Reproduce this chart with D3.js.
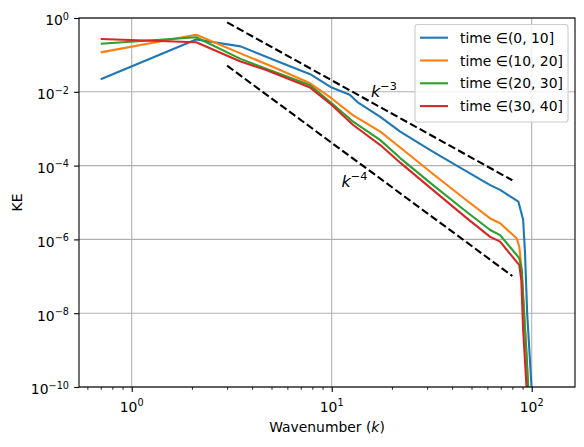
<!DOCTYPE html>
<html>
<head>
<meta charset="utf-8">
<script src="https://cdn.jsdelivr.net/npm/d3@7"></script>
<style>
body { margin: 0; background: #fff; }
text { font-family: "DejaVu Sans", sans-serif; fill: #000; }
</style>
</head>
<body>
<div id="chart"></div>
<script>
// spectra: [wavenumber k, KE]
var ke_0_10 = [[0.7, 2.2e-2], [2.1, 2.6e-1], [3.5, 1.7e-1], [5.5, 6.3e-2], [7.8, 3.0e-2], [10, 1.3e-2],
    [12.3, 8.3e-3], [13.5, 5.2e-3], [17.5, 2.1e-3], [22, 8.3e-4], [32, 2.4e-4], [47, 7.1e-5], [62, 2.95e-5],
    [69.5, 2.2e-5], [85.8, 1.05e-5], [90.6, 3.4e-6], [92.6, 4.2e-7], [94.9, 1.0e-8], [100, 8.3e-11], [102, 1e-11]];
var ke_10_20 = [[0.7, 1.17e-1], [2.1, 3.5e-1], [3.5, 1.1e-1], [5.0, 4.9e-2], [7.8, 1.7e-2], [10, 6.6e-3],
    [12.8, 2.3e-3], [17.5, 8.3e-4], [22, 3.1e-4], [32, 6.0e-5], [47, 1.17e-5], [62, 3.7e-6], [69.5, 2.75e-6],
    [84.1, 1.07e-6], [86.7, 6.3e-7], [89.1, 1.5e-7], [92.6, 3.5e-9], [96.3, 8.3e-11], [98, 1e-11]];
var ke_20_30 = [[0.7, 2.0e-1], [2.1, 3.0e-1], [3.5, 7.8e-2], [5.0, 3.7e-2], [7.8, 1.5e-2], [10, 4.9e-3],
    [12.8, 1.55e-3], [17.5, 4.9e-4], [22, 1.6e-4], [32, 3.0e-5], [47, 5.7e-6], [62, 1.8e-6], [69.5, 1.3e-6],
    [86.7, 3.1e-7], [89.1, 1.5e-7], [90.6, 2.8e-8], [94.4, 6.6e-10], [96, 9e-11], [97.5, 1e-11]];
var ke_30_40 = [[0.7, 2.7e-1], [2.1, 2.2e-1], [3.5, 6.6e-2], [4.7, 3.9e-2], [7.8, 1.3e-2], [10, 4.4e-3],
    [12.8, 1.26e-3], [17.5, 3.6e-4], [22, 1.2e-4], [32, 2.2e-5], [47, 3.9e-6], [62, 1.17e-6], [69.5, 8.7e-7],
    [86.7, 2.0e-7], [88.7, 7.9e-8], [90.6, 3.5e-9], [94.4, 8.3e-11], [96, 1e-11]];

var seriesNames = ["(0, 10]", "(10, 20]", "(20, 30]", "(30, 40]"];
var seriesColors = ["#1f77b4", "#ff7f0e", "#2ca02c", "#d62728"];
var allSeries = [ke_0_10, ke_10_20, ke_20_30, ke_30_40];

// reference slopes (end points)
var refK3 = [[3, 0.76], [80, 4.0e-5]];
var refK4 = [[3, 5.1e-2], [80, 1.02e-7]];

var xMajor = [1, 10, 100];
var xMinor = [0.6, 0.7, 0.8, 0.9, 2, 3, 4, 5, 6, 7, 8, 9, 20, 30, 40, 50, 60, 70, 80, 90];
var yMajor = [1, 1e-2, 1e-4, 1e-6, 1e-8, 1e-10];

var w = 584, h = 447;
var axLeft = 79, axRight = 575, axTop = 18, axBottom = 387;

var svg = d3.select("#chart").append("svg")
    .attr("width", w)
    .attr("height", h);

svg.append("rect").attr("width", w).attr("height", h).attr("fill", "#fff");

var x = d3.scaleLog().domain([0.545, 164.6]).range([axLeft, axRight]);
var y = d3.scaleLog().domain([1e-10, 1]).range([axBottom, axTop]);

svg.append("clipPath").attr("id", "clip")
    .append("rect")
    .attr("x", axLeft).attr("y", axTop)
    .attr("width", axRight - axLeft).attr("height", axBottom - axTop);

// grid
var grid = svg.append("g").attr("stroke", "#b0b0b0").attr("stroke-width", 1.1);
grid.selectAll(".gx").data(xMajor).enter().append("line")
    .attr("x1", function (d) { return x(d); }).attr("x2", function (d) { return x(d); })
    .attr("y1", axTop).attr("y2", axBottom);
grid.selectAll(".gy").data(yMajor).enter().append("line")
    .attr("y1", function (d) { return y(d); }).attr("y2", function (d) { return y(d); })
    .attr("x1", axLeft).attr("x2", axRight);

var line = d3.line()
    .x(function (d) { return x(d[0]); })
    .y(function (d) { return y(d[1]); });

var plot = svg.append("g").attr("clip-path", "url(#clip)");

allSeries.forEach(function (s, i) {
    plot.append("path")
        .attr("d", line(s))
        .attr("fill", "none")
        .attr("stroke", seriesColors[i])
        .attr("stroke-width", 2.1)
        .attr("stroke-linejoin", "round")
        .attr("stroke-linecap", "butt");
});

[refK3, refK4].forEach(function (r) {
    plot.append("path")
        .attr("d", line(r))
        .attr("fill", "none")
        .attr("stroke", "#000")
        .attr("stroke-width", 2.1)
        .attr("stroke-dasharray", "7.7,3.3");
});

// slope labels
function slopeLabel(px, py, exp) {
    var t = svg.append("text").attr("x", px).attr("y", py).attr("font-size", 16);
    t.append("tspan").attr("font-style", "italic").text("k");
    t.append("tspan").attr("font-size", 11.2).attr("dy", -7).text("\u2212" + exp);
}
slopeLabel(371, 97, 3);
slopeLabel(341.5, 186.7, 4);

// spines
svg.append("rect")
    .attr("x", axLeft).attr("y", axTop)
    .attr("width", axRight - axLeft).attr("height", axBottom - axTop)
    .attr("fill", "none").attr("stroke", "#000").attr("stroke-width", 1.1);

// ticks
var xAxis = d3.axisBottom(x).tickValues(xMajor).tickSize(4.9).tickFormat("");
var xAxisMinor = d3.axisBottom(x).tickValues(xMinor).tickSize(2.8).tickFormat("");
var yAxis = d3.axisLeft(y).tickValues(yMajor).tickSize(4.9).tickFormat("");

var gx = svg.append("g").attr("transform", "translate(0," + axBottom + ")").call(xAxis);
var gxm = svg.append("g").attr("transform", "translate(0," + axBottom + ")").call(xAxisMinor);
var gy = svg.append("g").attr("transform", "translate(" + axLeft + ",0)").call(yAxis);
[gx, gxm, gy].forEach(function (g) {
    g.select(".domain").remove();
    g.selectAll("line").attr("stroke", "#000");
});
gx.selectAll("line").attr("stroke-width", 1.1);
gy.selectAll("line").attr("stroke-width", 1.1);
gxm.selectAll("line").attr("stroke-width", 0.85);

function powText(t, v) {
    var e = Math.round(Math.log10(v));
    t.append("tspan").text("10");
    t.append("tspan").attr("font-size", 9.7).attr("dy", -5.5).text(e < 0 ? "\u2212" + (-e) : e);
}

xMajor.forEach(function (v) {
    var t = svg.append("text").attr("x", x(v)).attr("y", 411.5)
        .attr("font-size", 13.9).attr("text-anchor", "middle");
    powText(t, v);
});
yMajor.forEach(function (v) {
    var t = svg.append("text").attr("x", 69).attr("y", y(v) + 7.3)
        .attr("font-size", 13.9).attr("text-anchor", "end");
    powText(t, v);
});

// axis labels
var xl = svg.append("text").attr("x", (axLeft + axRight) / 2).attr("y", 432)
    .attr("font-size", 13.9).attr("text-anchor", "middle");
xl.append("tspan").text("Wavenumber (");
xl.append("tspan").attr("font-style", "italic").text("k");
xl.append("tspan").text(")");

svg.append("text")
    .attr("transform", "translate(21.5," + ((axTop + axBottom) / 2) + ") rotate(-90)")
    .attr("font-size", 13.9).attr("text-anchor", "middle")
    .text("KE");

// legend
var legend = svg.append("g");
legend.append("rect")
    .attr("x", 415).attr("y", 24.5).attr("width", 153).attr("height", 97.5)
    .attr("rx", 2.8)
    .attr("fill", "#fff").attr("fill-opacity", 0.8)
    .attr("stroke", "#cccccc").attr("stroke-width", 1.1);

seriesNames.forEach(function (name, i) {
    var cy = 37.7 + i * 22.8;
    legend.append("line")
        .attr("x1", 420).attr("x2", 448).attr("y1", cy).attr("y2", cy)
        .attr("stroke", seriesColors[i]).attr("stroke-width", 2.1);
    var t = legend.append("text").attr("x", 460).attr("y", cy + 5).attr("font-size", 13.9);
    t.append("tspan").text("time \u2208" + name);
});
</script>
</body>
</html>
